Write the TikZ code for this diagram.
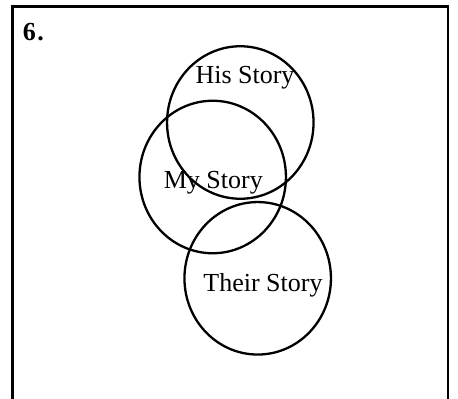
\documentclass[tikz,border=0pt]{standalone}
\usepackage{fontspec}
\setmainfont{Liberation Serif}
\usetikzlibrary{shapes.geometric}
\begin{document}
\begin{tikzpicture}[x=1pt,y=-1pt,
  setcircle/.style={draw,ellipse,line width=2.3pt,inner sep=0pt,minimum width=146.5pt,minimum height=152.5pt},
  setlabel/.style={anchor=base,inner sep=0pt,font=\fontsize{26}{30}\selectfont}]
\useasboundingbox (0,0) rectangle (458,399);
\coordinate (bl) at (12.7,399);
\coordinate (tl) at (12.7,6.7);
\coordinate (tr) at (448,6.7);
\coordinate (br) at (448,399);
\draw[line width=2.7pt] (bl) -- (tl) -- (tr) -- (br);
\node[anchor=base west,inner sep=0pt,font=\fontsize{26}{30}\selectfont\bfseries] (num) at (22.8,40) {6\kern1.5pt.};
\node[setcircle] (his) at (240.3,122.5) {};
\node[setcircle] (my) at (212.7,177) {};
\node[setcircle] (their) at (257.7,278.3) {};
\node[setlabel] (hisl) at (245,83.5) {His Story};
\node[setlabel] (myl) at (213.3,188.3) {My Story};
\node[setlabel] (theirl) at (263,291.7) {Their Story};
\end{tikzpicture}
\end{document}
